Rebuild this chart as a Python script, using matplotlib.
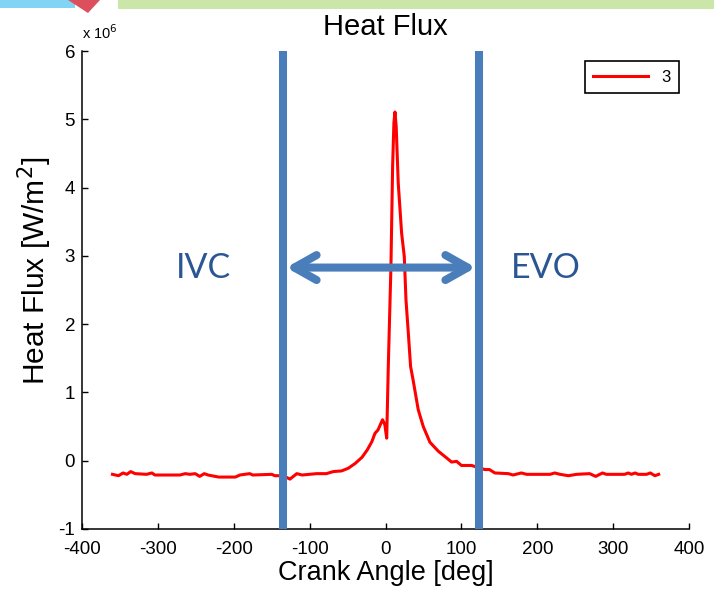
import matplotlib
matplotlib.use("Agg")
import matplotlib.pyplot as plt
from matplotlib.patches import Rectangle, Polygon

# crank angle [deg] and heat flux [x 1e6 W/m^2]
angle = [-360, -352, -346, -341, -336, -330, -315, -308, -304, -271, -264, -258,
         -251, -245, -239, -234, -220, -198, -192, -179, -175, -150, -146, -135,
         -126, -117, -110, -91, -78, -69, -58, -49, -40, -31, -24, -18, -14, -10,
         -4, -1, 1.5, 3.6, 7.1, 9.3, 11, 12.4, 14, 16.7, 21.2, 24.7, 26.9, 30, 33,
         36.5, 43, 49.7, 58.5, 69.4, 80.5, 87, 93.7, 100, 113.4, 122, 131, 137,
         144, 162, 168, 179, 186, 208, 217, 223, 230, 241, 252, 269, 277, 286, 291,
         315, 320, 324, 329, 333, 344, 349, 355, 360]
flux = [-0.20, -0.22, -0.18, -0.20, -0.16, -0.19, -0.20, -0.18, -0.21, -0.21, -0.19, -0.20,
        -0.19, -0.23, -0.19, -0.21, -0.24, -0.24, -0.21, -0.19, -0.21, -0.20, -0.22, -0.22,
        -0.27, -0.19, -0.21, -0.19, -0.19, -0.16, -0.15, -0.11, -0.04, 0.05, 0.16, 0.28, 0.40, 0.45,
        0.60, 0.53, 0.33, 1.38, 2.85, 4.31, 4.95, 5.11, 4.90, 4.07, 3.33, 2.99, 2.36, 1.87, 1.38,
        1.17, 0.75, 0.50, 0.27, 0.14, 0.04, -0.02, -0.01, -0.07, -0.07, -0.10, -0.13, -0.13,
        -0.18, -0.19, -0.21, -0.18, -0.20, -0.20, -0.20, -0.18, -0.20, -0.22, -0.20, -0.19, -0.23, -0.18, -0.20,
        -0.20, -0.18, -0.20, -0.18, -0.20, -0.20, -0.18, -0.22, -0.20]

IVC, EVO = -135, 123
ARROW_Y = 2.83
BLUE = "#4A7EBB"
TEXT_BLUE = "#2A5694"

plt.rcParams["axes.unicode_minus"] = False
plt.rcParams["font.family"] = ["Liberation Sans", "DejaVu Sans"]

fig = plt.figure(figsize=(7.14, 5.89), dpi=100)
ax = fig.add_axes([0.115, 0.102, 0.85, 0.811])

ax.plot(angle, flux, color="red", lw=2.2, label="3", zorder=3)

for x in (IVC, EVO):
    ax.axvline(x, color=BLUE, lw=5.8, zorder=4, clip_on=False, solid_capstyle="butt")
ax.annotate("", xy=(EVO - 4, ARROW_Y), xytext=(IVC + 4, ARROW_Y),
            arrowprops=dict(arrowstyle="<->,head_length=1.6,head_width=0.9",
                            color=BLUE, lw=5.8, capstyle="round", joinstyle="round",
                            shrinkA=0, shrinkB=0), zorder=5)
ax.text(-240, ARROW_Y, "IVC", color=TEXT_BLUE, fontsize=24.5, family="Lato",
        ha="center", va="center")
ax.text(211, ARROW_Y, "EVO", color=TEXT_BLUE, fontsize=24.5, family="Lato",
        ha="center", va="center")

ax.set_xlim(-400, 400)
ax.set_ylim(-1, 6)
ax.set_xticks(range(-400, 401, 100))
ax.set_yticks(range(-1, 7))
ax.spines["top"].set_visible(False)
ax.spines["right"].set_visible(False)
for s in ("left", "bottom"):
    ax.spines[s].set_linewidth(1.1)
ax.tick_params(direction="in", length=4, width=1.0, labelsize=13.5)
ax.tick_params(axis="x", pad=9)
ax.tick_params(axis="y", pad=5)

ax.set_title("Heat Flux", fontsize=21, pad=12)
ax.set_xlabel("Crank Angle [deg]", fontsize=19.5, labelpad=1)
ax.set_ylabel("Heat Flux [W/m$^2$]", fontsize=21.5)
ax.yaxis.set_label_coords(-0.047, 0.54)
ax.text(0.0, 1.02, "x 10$^6$", transform=ax.transAxes, fontsize=10.5, ha="left", va="bottom")

leg = ax.legend(loc="upper right", fontsize=12, handlelength=3.3, fancybox=False,
                borderaxespad=0.6, borderpad=0.5, framealpha=1)
leg.get_frame().set_edgecolor("black")
leg.get_frame().set_linewidth(1.2)

# slide decorations along the top edge
fig.add_artist(Rectangle((0, 1 - 8 / 589), 75 / 714, 8 / 589, transform=fig.transFigure,
                         color="#82D4F4", lw=0))
fig.add_artist(Rectangle((118 / 714, 1 - 9 / 589), 1, 9 / 589, transform=fig.transFigure,
                         color="#CBE6A9", lw=0))
fig.add_artist(Polygon([(68 / 714, 1), (100 / 714, 1), (88 / 714, 1 - 13 / 589)],
                       closed=True, transform=fig.transFigure, color="#DC4F5C", lw=0))

fig.savefig("out.png", dpi=100)
